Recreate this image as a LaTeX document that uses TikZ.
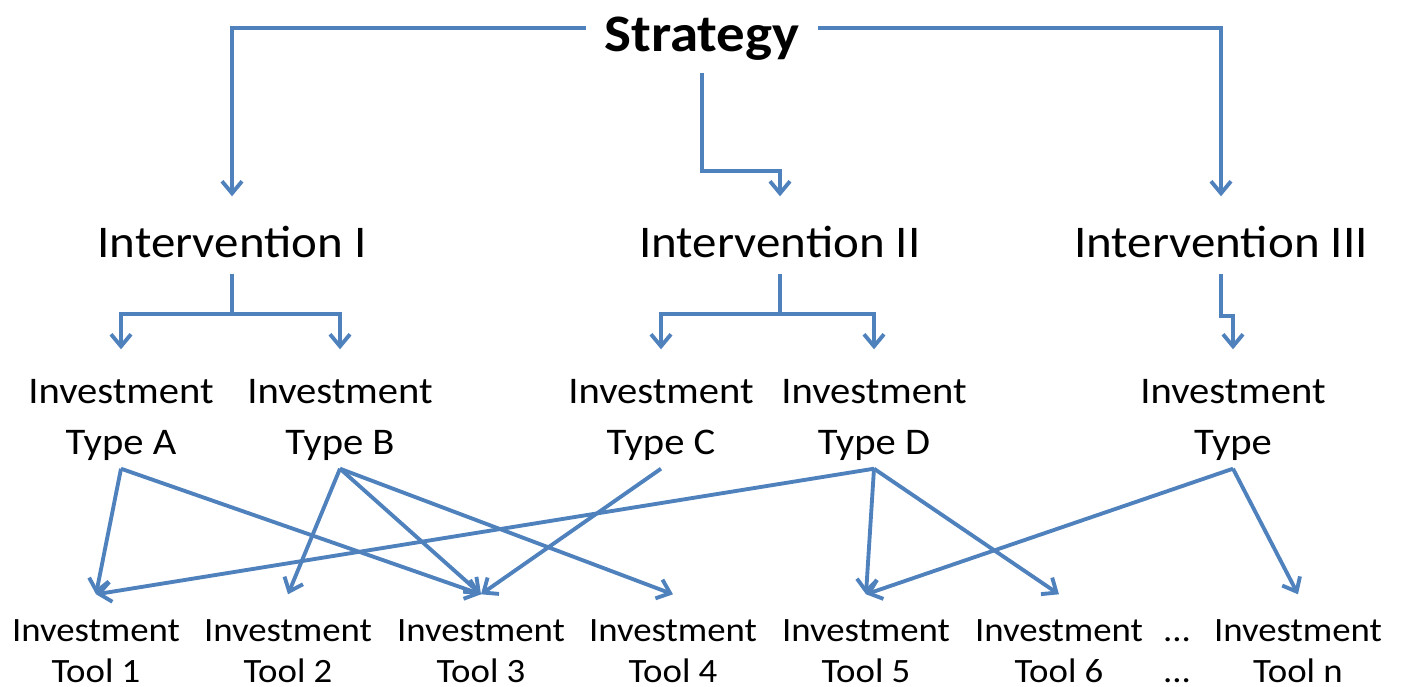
\documentclass[tikz,border=0pt]{standalone}
\usepackage{fontspec}
\setmainfont{Carlito}[FakeStretch=1.08]
\usetikzlibrary{arrows.meta}
\definecolor{linkblue}{RGB}{79,129,189}

\begin{document}
\begin{tikzpicture}[link/.style={draw=linkblue, line width=1.1pt,
                                 -{Straight Barb[length=0.12cm,width=0.2cm]}},
                    toplevel/.style={font=\fontsize{15}{18}\selectfont\bfseries, anchor=base,
                                     inner xsep=0.18cm, inner ysep=0pt, text height=0.68cm, text depth=0.2cm},
                    intervention/.style={font=\fontsize{12.9}{15}\selectfont, anchor=base,
                                         inner ysep=0pt, text height=0.6cm, text depth=0.16cm},
                    invtype/.style={font=\fontsize{10.7}{14.5}\selectfont, align=center, anchor=base,
                                    inner sep=0.04cm, text height=1.0cm, text depth=0.1cm},
                    invtool/.style={font=\fontsize{9.7}{11.4}\selectfont, align=center, anchor=base,
                                    inner sep=0pt, text height=0.87cm, text depth=0.05cm}]
\useasboundingbox (0,0) rectangle (14.02,-6.87);

\node[toplevel] (strategy) at (7.02,-0.52) {Strategy};

\node[intervention] (int1) at (2.32,-2.57) {Intervention I};
\node[intervention] (int2) at (7.80,-2.57) {Intervention II};
\node[intervention] (int3) at (12.21,-2.57) {Intervention III};

\node[invtype] (typeA) at (1.21,-4.54) {Investment\\Type A};
\node[invtype] (typeB) at (3.40,-4.54) {Investment\\Type B};
\node[invtype] (typeC) at (6.61,-4.54) {Investment\\Type C};
\node[invtype] (typeD) at (8.74,-4.54) {Investment\\Type D};
\node[invtype] (typeE) at (12.33,-4.54) {Investment\\Type};

\node[invtool] (tool1) at (0.96,-6.82) {Investment\\Tool 1};
\node[invtool] (tool2) at (2.88,-6.82) {Investment\\Tool 2};
\node[invtool] (tool3) at (4.81,-6.82) {Investment\\Tool 3};
\node[invtool] (tool4) at (6.73,-6.82) {Investment\\Tool 4};
\node[invtool] (tool5) at (8.66,-6.82) {Investment\\Tool 5};
\node[invtool] (tool6) at (10.59,-6.82) {Investment\\Tool 6};
\node[invtool] (dots) at (11.77,-6.82) {...\\...};
\node[invtool] (tooln) at (12.98,-6.82) {Investment\\Tool n};

\draw[link] (strategy.west) -| (int1.north);
\draw[link] (strategy.south) -- ++(0,-0.98) -| (int2.north);
\draw[link] (strategy.east) -| (int3.north);

\draw[link] (int1.south) -- ++(0,-0.4) -| (typeA.north);
\draw[link] (int1.south) -- ++(0,-0.4) -| (typeB.north);
\draw[link] (int2.south) -- ++(0,-0.4) -| (typeC.north);
\draw[link] (int2.south) -- ++(0,-0.4) -| (typeD.north);
\draw[link] (int3.south) -- ++(0,-0.42) -| (typeE.north);

\draw[link] (typeA.south) -- (tool1.north);
\draw[link] (typeA.south) -- (tool3.north);
\draw[link] (typeB.south) -- (tool2.north);
\draw[link] (typeB.south) -- (tool3.north);
\draw[link] (typeB.south) -- (tool4.north);
\draw[link] (typeC.south) -- (tool3.north);
\draw[link] (typeD.south) -- (tool1.north);
\draw[link] (typeD.south) -- (tool5.north);
\draw[link] (typeD.south) -- (tool6.north);
\draw[link] (typeE.south) -- (tool5.north);
\draw[link] (typeE.south) -- (tooln.north);
\end{tikzpicture}
\end{document}
